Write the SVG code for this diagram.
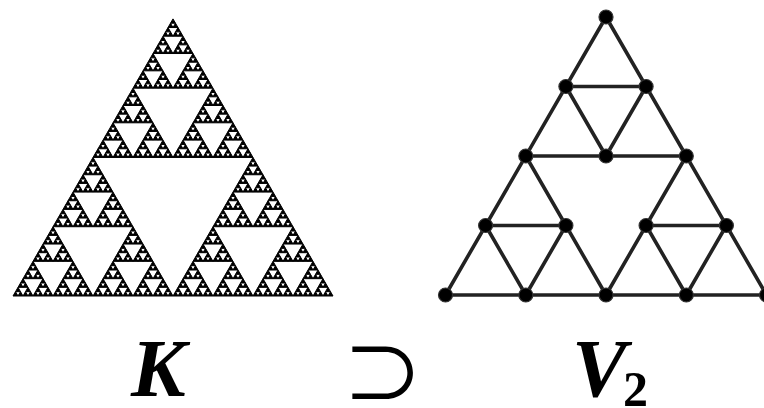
<svg xmlns="http://www.w3.org/2000/svg" xmlns:xlink="http://www.w3.org/1999/xlink" width="764" height="408" viewBox="0 0 764 408">
<style>
.edge{stroke:#222;stroke-width:3.6;stroke-linecap:round;fill:none}
.dot{fill:#000;stroke:#333;stroke-width:1.2}
.lbl{font-family:"Liberation Serif","DejaVu Serif","Times New Roman",serif;font-weight:bold;font-style:italic;fill:#000}
.sub{font-family:"Liberation Serif","DejaVu Serif","Times New Roman",serif;font-weight:bold;fill:#000}
.rel{font-family:"Noto Sans CJK JP","DejaVu Sans",sans-serif;fill:#000}
</style>
<defs>
<path id="t0" d="M0,0 L5,0 L2.5,-4.33 Z" fill="#000" stroke="#000" stroke-width="1" stroke-linejoin="round"/>
<g id="t1"><use xlink:href="#t0"/><use xlink:href="#t0" x="5"/><use xlink:href="#t0" x="2.5" y="-4.33"/></g>
<g id="t2"><use xlink:href="#t1"/><use xlink:href="#t1" x="10"/><use xlink:href="#t1" x="5" y="-8.66"/></g>
<g id="t3"><use xlink:href="#t2"/><use xlink:href="#t2" x="20"/><use xlink:href="#t2" x="10" y="-17.32"/></g>
<g id="t4"><use xlink:href="#t3"/><use xlink:href="#t3" x="40"/><use xlink:href="#t3" x="20" y="-34.64"/></g>
<g id="t5"><use xlink:href="#t4"/><use xlink:href="#t4" x="80"/><use xlink:href="#t4" x="40" y="-69.28"/></g>
<g id="t6"><use xlink:href="#t5"/><use xlink:href="#t5" x="160"/><use xlink:href="#t5" x="80" y="-138.56"/></g>
</defs>
<g id="sierpinski-K">
<use xlink:href="#t6" transform="translate(13,296)"/>
</g>
<g id="connectors">
<line class="edge" x1="606" y1="17" x2="445.5" y2="295"/>
<line class="edge" x1="606" y1="17" x2="766.5" y2="295"/>
<line class="edge" x1="445.5" y1="295" x2="766.5" y2="295"/>
<line class="edge" x1="565.9" y1="86.5" x2="646.1" y2="86.5"/>
<line class="edge" x1="565.9" y1="86.5" x2="606" y2="156"/>
<line class="edge" x1="646.1" y1="86.5" x2="606" y2="156"/>
<line class="edge" x1="525.8" y1="156" x2="686.3" y2="156"/>
<line class="edge" x1="525.8" y1="156" x2="606" y2="295"/>
<line class="edge" x1="686.3" y1="156" x2="606" y2="295"/>
<line class="edge" x1="485.6" y1="225.5" x2="565.9" y2="225.5"/>
<line class="edge" x1="485.6" y1="225.5" x2="525.8" y2="295"/>
<line class="edge" x1="565.9" y1="225.5" x2="525.8" y2="295"/>
<line class="edge" x1="646.1" y1="225.5" x2="726.4" y2="225.5"/>
<line class="edge" x1="646.1" y1="225.5" x2="686.3" y2="295"/>
<line class="edge" x1="726.4" y1="225.5" x2="686.3" y2="295"/>
</g>
<g id="node-1"><circle class="dot" cx="606" cy="17" r="7"/></g>
<g id="node-2"><circle class="dot" cx="565.9" cy="86.5" r="7"/></g>
<g id="node-3"><circle class="dot" cx="646.1" cy="86.5" r="7"/></g>
<g id="node-4"><circle class="dot" cx="525.8" cy="156" r="7"/></g>
<g id="node-5"><circle class="dot" cx="606" cy="156" r="7"/></g>
<g id="node-6"><circle class="dot" cx="686.3" cy="156" r="7"/></g>
<g id="node-7"><circle class="dot" cx="485.6" cy="225.5" r="7"/></g>
<g id="node-8"><circle class="dot" cx="565.9" cy="225.5" r="7"/></g>
<g id="node-9"><circle class="dot" cx="646.1" cy="225.5" r="7"/></g>
<g id="node-10"><circle class="dot" cx="726.4" cy="225.5" r="7"/></g>
<g id="node-11"><circle class="dot" cx="445.5" cy="295" r="7"/></g>
<g id="node-12"><circle class="dot" cx="525.8" cy="295" r="7"/></g>
<g id="node-13"><circle class="dot" cx="606" cy="295" r="7"/></g>
<g id="node-14"><circle class="dot" cx="686.3" cy="295" r="7"/></g>
<g id="node-15"><circle class="dot" cx="766.5" cy="295" r="7"/></g>
<g id="labels">
<text class="lbl" x="131" y="396" font-size="82">K</text>
<text class="rel" x="342" y="403" font-size="81">⊃</text>
<text class="lbl" x="572" y="396" font-size="82">V</text>
<text class="sub" x="623" y="406" font-size="50">2</text>
</g>
</svg>
